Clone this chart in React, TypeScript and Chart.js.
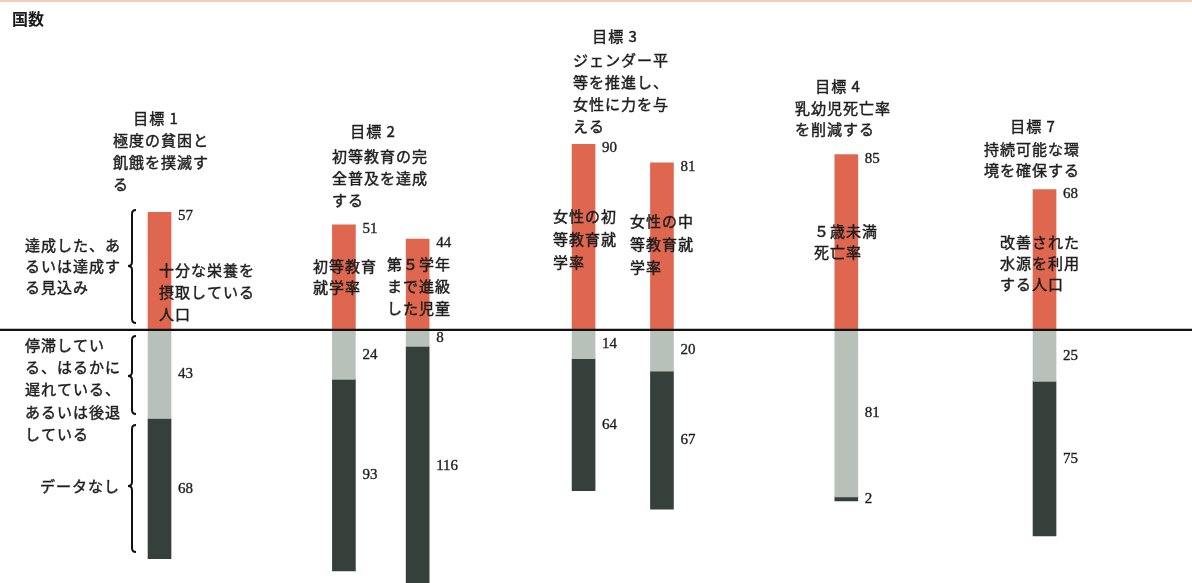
import React, { useEffect, useRef } from "react";
import { Chart, registerables } from "chart.js";
Chart.register(...registerables);

// ---- data ----
const barNames = [
  "十分な栄養を摂取している人口",
  "初等教育就学率",
  "第５学年まで進級した児童",
  "女性の初等教育就学率",
  "女性の中等教育就学率",
  "５歳未満死亡率",
  "改善された水源を利用する人口",
];
const achieved = [57, 51, 44, 90, 81, 85, 68];
const stagnating = [43, 24, 8, 14, 20, 81, 25];
const noData = [68, 93, 116, 64, 67, 2, 75];

// ---- layout (category slots used for uneven spacing) ----
const barSlots = [34, 74, 90, 126, 143, 183, 226];
const SLOT_COUNT = 256;

const COLOR_ACH = "#e0674f";
const COLOR_STAG = "#b7c1ba";
const COLOR_NONE = "#36403b";
const TEXT = "#1e1e1e";

const goalTitles = [
  { head: "目標 1", hx: 156, hy: 118, x: 113, y: 140, step: 22, lines: ["極度の貧困と", "飢餓を撲滅す", "る"] },
  { head: "目標 2", hx: 373, hy: 131, x: 332, y: 156, step: 22, lines: ["初等教育の完", "全普及を達成", "する"] },
  { head: "目標 3", hx: 615, hy: 36, x: 573, y: 60, step: 22, lines: ["ジェンダー平", "等を推進し、", "女性に力を与", "える"] },
  { head: "目標 4", hx: 838, hy: 86, x: 795, y: 108, step: 21, lines: ["乳幼児死亡率", "を削減する"] },
  { head: "目標 7", hx: 1033, hy: 126, x: 984, y: 149, step: 21, lines: ["持続可能な環", "境を確保する"] },
];

const barLabels = [
  { x: 159, y: 270, step: 22, lines: ["十分な栄養を", "摂取している", "人口"] },
  { x: 313, y: 266, step: 21, lines: ["初等教育", "就学率"] },
  { x: 387, y: 264, step: 22, lines: ["第５学年", "まで進級", "した児童"] },
  { x: 553, y: 216, step: 23, lines: ["女性の初", "等教育就", "学率"] },
  { x: 630, y: 221, step: 23, lines: ["女性の中", "等教育就", "学率"] },
  { x: 814, y: 231, step: 21, lines: ["５歳未満", "死亡率"] },
  { x: 1000, y: 242, step: 21, lines: ["改善された", "水源を利用", "する人口"] },
];

const sideLabels = [
  { x: 25, y: 245, step: 21, lines: ["達成した、あ", "るいは達成す", "る見込み"] },
  { x: 25, y: 345, step: 22.3, lines: ["停滞してい", "る、はるかに", "遅れている、", "あるいは後退", "している"] },
  { x: 40, y: 486, step: 21, lines: ["データなし"] },
];

const braces = [
  { x: 132, top: 210, mid: 266, bottom: 323 },
  { x: 132, top: 336, mid: 376, bottom: 414 },
  { x: 132, top: 425, mid: 486, bottom: 552 },
];

function slotArray<T>(vals: T[], fill: T | null) {
  const arr: (T | null)[] = new Array(SLOT_COUNT).fill(fill);
  barSlots.forEach((s, i) => (arr[s] = vals[i]));
  return arr;
}

const JP_FONT = '15px "Noto Sans CJK JP", sans-serif';
const NUM_FONT = '15px "Liberation Serif", "DejaVu Serif", serif';

function heavyText(ctx: CanvasRenderingContext2D, s: string, x: number, y: number) {
  ctx.fillText(s, x, y);
  ctx.strokeText(s, x, y);
}

const overlayPlugin = {
  id: "overlay",
  afterDatasetsDraw(chart: any) {
    const ctx = chart.ctx as CanvasRenderingContext2D;
    const yScale = chart.scales.y;
    const zeroY = yScale.getPixelForValue(0);
    ctx.save();

    // faint top rule
    ctx.fillStyle = "rgba(240,160,120,0.55)";
    ctx.fillRect(0, 0, chart.width, 2);

    // zero line
    ctx.strokeStyle = "#111";
    ctx.lineWidth = 2.2;
    ctx.beginPath();
    ctx.moveTo(0, zeroY);
    ctx.lineTo(chart.width, zeroY);
    ctx.stroke();

    // value labels
    ctx.font = NUM_FONT;
    ctx.fillStyle = TEXT;
    ctx.strokeStyle = TEXT;
    ctx.lineWidth = 0.35;
    ctx.textAlign = "left";
    ctx.textBaseline = "middle";
    chart.data.datasets.forEach((ds: any, di: number) => {
      const meta = chart.getDatasetMeta(di);
      barSlots.forEach((slot, i) => {
        const el: any = meta.data[slot];
        if (!el) return;
        const v = ds.rawValues[i];
        const xr = el.x + el.width / 2 + 7;
        const y = di === 0 ? el.y + 4 : (el.y + el.base) / 2;
        heavyText(ctx, String(v), xr, y);
      });
    });

    // texts
    (ctx as any).letterSpacing = "1px";
    ctx.font = JP_FONT;
    ctx.fillStyle = TEXT;
    ctx.strokeStyle = TEXT;
    ctx.lineWidth = 0.45;
    goalTitles.forEach((g) => {
      ctx.textAlign = "center";
      heavyText(ctx, g.head, g.hx, g.hy);
      ctx.textAlign = "left";
      g.lines.forEach((l, k) => heavyText(ctx, l, g.x, g.y + k * g.step));
    });
    ctx.textAlign = "left";
    [...barLabels, ...sideLabels].forEach((b) => {
      b.lines.forEach((l, k) => heavyText(ctx, l, b.x, b.y + k * b.step));
    });

    // header
    (ctx as any).letterSpacing = "0px";
    ctx.font = 'bold 16px "Noto Sans CJK JP", sans-serif';
    ctx.fillStyle = "#1a1a1a";
    ctx.fillText("国数", 12, 19);

    // braces
    ctx.strokeStyle = "#111";
    ctx.lineWidth = 2;
    braces.forEach((b) => {
      const r = 4;
      ctx.beginPath();
      ctx.moveTo(b.x + r, b.top);
      ctx.quadraticCurveTo(b.x, b.top, b.x, b.top + r);
      ctx.lineTo(b.x, b.mid - r);
      ctx.quadraticCurveTo(b.x, b.mid, b.x - r, b.mid);
      ctx.quadraticCurveTo(b.x, b.mid, b.x, b.mid + r);
      ctx.lineTo(b.x, b.bottom - r);
      ctx.quadraticCurveTo(b.x, b.bottom, b.x + r, b.bottom);
      ctx.stroke();
    });

    ctx.restore();
  },
};

export default function App() {
  const ref = useRef<HTMLCanvasElement | null>(null);
  useEffect(() => {
    if (!ref.current) return;
    const labels = slotArray(barNames, "") as string[];
    const chart = new Chart(ref.current, {
      type: "bar",
      data: {
        labels,
        datasets: [
          {
            label: "達成した、あるいは達成する見込み",
            data: slotArray(achieved, null) as any,
            rawValues: achieved,
            backgroundColor: COLOR_ACH,
            barThickness: 23,
          } as any,
          {
            label: "停滞している、はるかに遅れている、あるいは後退している",
            data: slotArray(stagnating.map((v) => -v), null) as any,
            rawValues: stagnating,
            backgroundColor: COLOR_STAG,
            barThickness: 23,
          } as any,
          {
            label: "データなし",
            data: slotArray(noData.map((v) => -v), null) as any,
            rawValues: noData,
            backgroundColor: COLOR_NONE,
            barThickness: 23,
          } as any,
        ],
      },
      options: {
        animation: false,
        responsive: false,
        devicePixelRatio: 1,
        layout: { padding: { left: 0.5, right: 11.5, top: 0, bottom: 0 } },
        plugins: { legend: { display: false }, tooltip: { enabled: false } },
        scales: {
          x: { stacked: true, display: false, grid: { display: false } },
          y: { stacked: true, display: false, min: -122.8, max: 160, grid: { display: false } },
        },
      },
      plugins: [overlayPlugin],
    });
    return () => chart.destroy();
  }, []);
  return (
    <div style={{ position: "fixed", left: 0, top: 0, width: 1192, height: 583, background: "#fff" }}>
      <canvas ref={ref} width={1192} height={583} />
    </div>
  );
}
